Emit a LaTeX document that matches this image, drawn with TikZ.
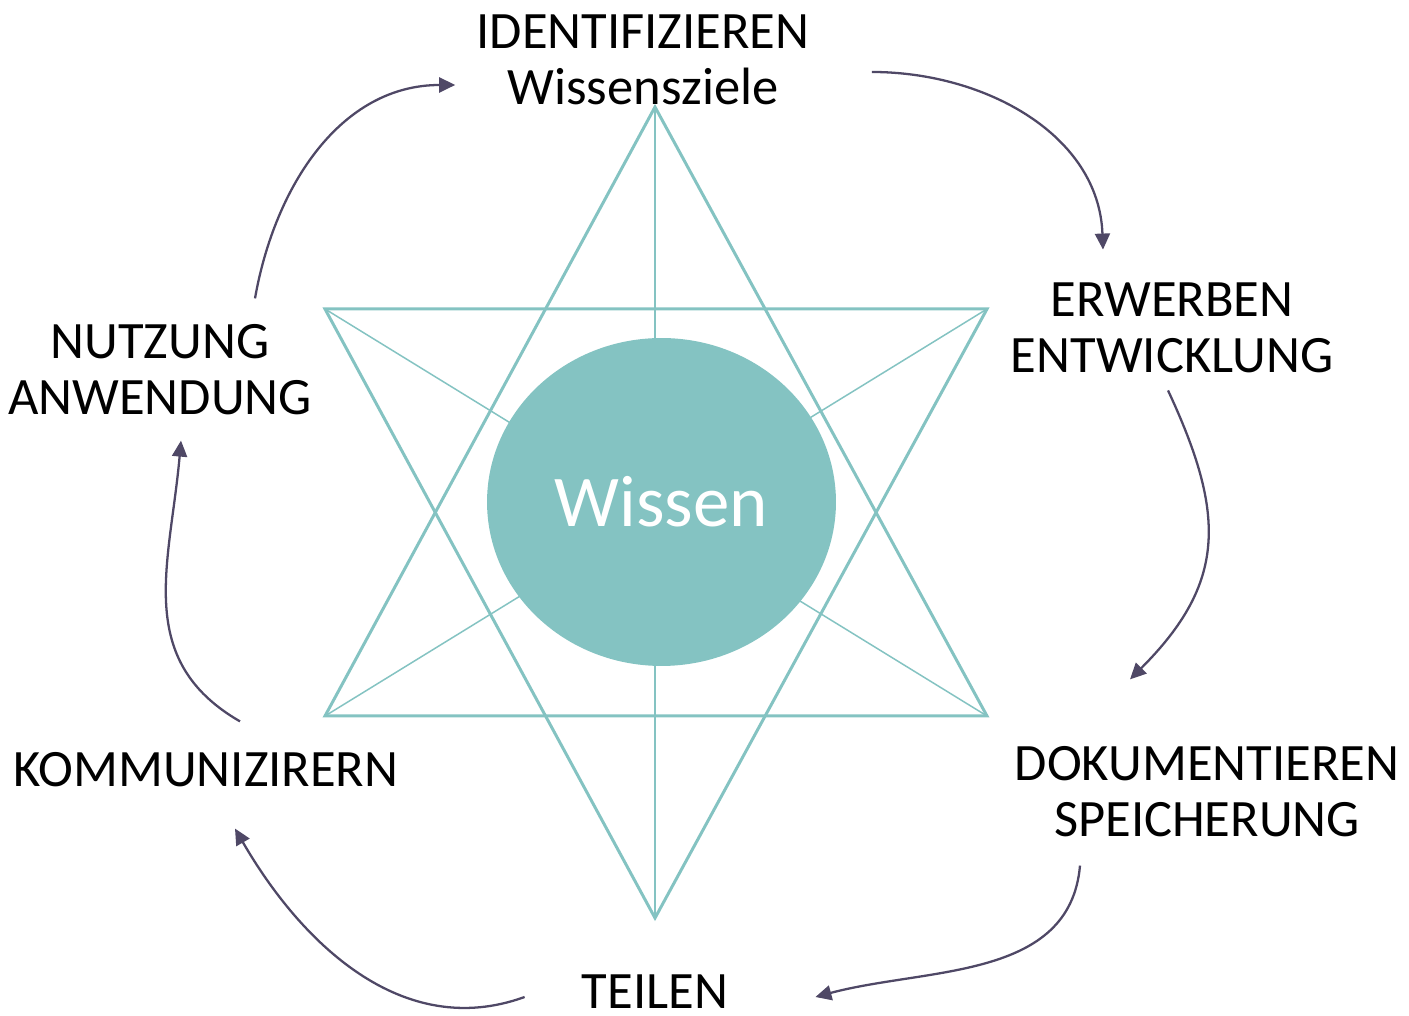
\documentclass[tikz,border=0pt]{standalone}
\usepackage{fontspec}
\setmainfont{Carlito}
\usetikzlibrary{arrows.meta,shapes.geometric}
\definecolor{wteal}{HTML}{84C3C2}
\definecolor{wpurple}{HTML}{4F4866}

\begin{document}
\begin{tikzpicture}[x=0.02cm, y=0.02cm,
  every node/.style={font=\fontsize{29.9}{31.9}\selectfont, align=center, inner sep=0pt},
  tri/.style={draw=wteal, line width=1.7pt},
  axis/.style={draw=wteal, line width=0.85pt},
  core/.style={ellipse, fill=wteal, text=white, minimum width=6.98cm, minimum height=6.56cm,
    font=\fontsize{41.5}{45}\selectfont},
  cyc/.style={draw=wpurple, line width=1.3pt, -{Triangle[length=0.32cm, width=0.3cm]}}]

\useasboundingbox (0,0) rectangle (1409,1016);

% star
\draw [axis] (655,909) -- (655,98);
\draw [axis] (325,707) -- (987,300);
\draw [axis] (987,707) -- (325,300);
\draw [tri] (655,909) -- (987,300) -- (325,300) -- cycle;
\draw [tri] (655,98) -- (325,707) -- (987,707) -- cycle;

\node (wissen) [core] at (661.5,514) {Wissen};

% steps
\node (ident) at (643,956) {IDENTIFIZIEREN\\Wissensziele};
\node (erwerb) at (1172,688) {ERWERBEN\\ENTWICKLUNG};
\node (doku) at (1207,224) {DOKUMENTIEREN\\SPEICHERUNG};
\node (teilen) at (655,24) {TEILEN};
\node (kommu) at (206,246) {KOMMUNIZIRERN};
\node (nutz) at (160,646) {NUTZUNG\\ANWENDUNG};

% cycle arrows
\draw [cyc] ([shift={(62,-12)}]ident.east) to[out=0, in=92] ([shift={(-69,33)}]erwerb.north);
\draw [cyc] ([shift={(-4,-17)}]erwerb.south) to[out=-65, in=45, looseness=1.2] ([shift={(-77,67)}]doku.north);
\draw [cyc] ([shift={(-127,-28)}]doku.south) to[out=-95, in=15] ([shift={(87,-5)}]teilen.east);
\draw [cyc] ([shift={(-57,-5)}]teilen.west) to[out=200, in=-60] ([shift={(29,-41)}]kommu.south);
\draw [cyc] ([shift={(34,31)}]kommu.north) to[out=150, in=-95, looseness=1.1] ([shift={(21,-25)}]nutz.south);
\draw [cyc] ([shift={(95,26)}]nutz.north) to[out=80, in=180] ([shift={(-21,-25)}]ident.west);
\end{tikzpicture}
\end{document}
